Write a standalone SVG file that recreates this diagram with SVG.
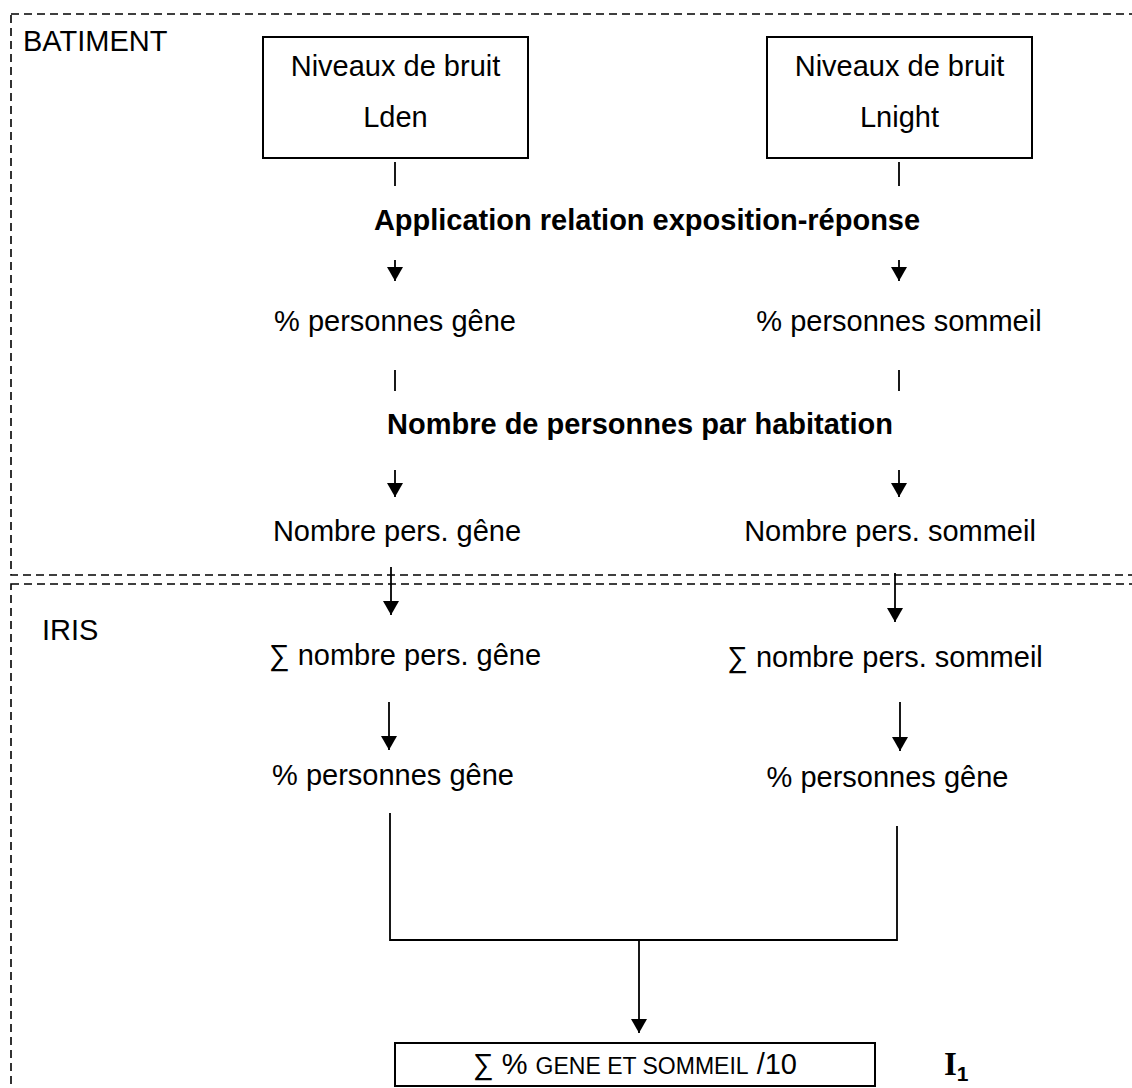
<svg xmlns="http://www.w3.org/2000/svg" width="1132" height="1088" viewBox="0 0 1132 1088">
<defs>
<style>
.t{font-family:"Liberation Sans",Arial,sans-serif;font-size:29px;fill:#000}
.c{text-anchor:middle}
.b{font-weight:bold}
.box{fill:#fff;stroke:#000;stroke-width:2}
.zone{fill:none;stroke:#000;stroke-width:1.6;stroke-dasharray:8 5}
.ln{fill:none;stroke:#000;stroke-width:1.8}
.ar{fill:none;stroke:#000;stroke-width:1.8;marker-end:url(#ah)}
</style>
<marker id="ah" viewBox="0 0 14 16" refX="14" refY="8" markerWidth="14" markerHeight="16" markerUnits="userSpaceOnUse" orient="auto">
<path d="M0,0 L14,8 L0,16 z" fill="#000"/>
</marker>
</defs>
<rect width="1132" height="1088" fill="#fff"/>

<g id="zone-batiment">
<rect class="zone" x="11" y="14" width="1140" height="561"/>
<text class="t" x="23" y="51">BATIMENT</text>
</g>
<g id="zone-iris">
<rect class="zone" x="11" y="584" width="1140" height="540"/>
<text class="t" x="42" y="640">IRIS</text>
</g>

<g id="connectors">
<line class="ln" x1="395" y1="162" x2="395" y2="186"/>
<line class="ln" x1="899" y1="162" x2="899" y2="186"/>
<line class="ar" x1="395" y1="260" x2="395" y2="281"/>
<line class="ar" x1="899" y1="260" x2="899" y2="281"/>
<line class="ln" x1="395" y1="370" x2="395" y2="391"/>
<line class="ln" x1="899" y1="370" x2="899" y2="391"/>
<line class="ar" x1="395" y1="470" x2="395" y2="497"/>
<line class="ar" x1="899" y1="470" x2="899" y2="497"/>
<line class="ar" x1="391" y1="567" x2="391" y2="615"/>
<line class="ar" x1="895" y1="573" x2="895" y2="622"/>
<line class="ar" x1="389" y1="702" x2="389" y2="750"/>
<line class="ar" x1="900" y1="702" x2="900" y2="751"/>
<polyline class="ln" points="390,813 390,940 897,940 897,826"/>
<line class="ar" x1="639" y1="940" x2="639" y2="1033"/>
</g>

<g id="node-lden">
<rect class="box" x="263" y="37" width="265" height="121"/>
<text class="t c" x="395.5" y="76">Niveaux de bruit</text>
<text class="t c" x="395.5" y="127">Lden</text>
</g>
<g id="node-lnight">
<rect class="box" x="767" y="37" width="265" height="121"/>
<text class="t c" x="899.5" y="76">Niveaux de bruit</text>
<text class="t c" x="899.5" y="127">Lnight</text>
</g>
<g id="label-relation">
<text class="t c b" x="647" y="230">Application relation exposition-réponse</text>
</g>
<g id="node-pct-gene-1">
<text class="t c" x="395" y="331">% personnes gêne</text>
</g>
<g id="node-pct-sommeil-1">
<text class="t c" x="899" y="331">% personnes sommeil</text>
</g>
<g id="label-habitation">
<text class="t c b" x="640" y="434">Nombre de personnes par habitation</text>
</g>
<g id="node-nb-gene">
<text class="t c" x="397" y="541">Nombre pers. gêne</text>
</g>
<g id="node-nb-sommeil">
<text class="t c" x="890" y="541">Nombre pers. sommeil</text>
</g>
<g id="node-sum-gene">
<text class="t c" x="405" y="665">∑ nombre pers. gêne</text>
</g>
<g id="node-sum-sommeil">
<text class="t c" x="885" y="667">∑ nombre pers. sommeil</text>
</g>
<g id="node-pct-gene-2">
<text class="t c" x="393" y="785">% personnes gêne</text>
</g>
<g id="node-pct-gene-3">
<text class="t c" x="887.5" y="787">% personnes gêne</text>
</g>
<g id="node-result">
<rect class="box" x="395" y="1043" width="480" height="43"/>
<text class="t c" x="635" y="1074">∑ % <tspan font-size="23">GENE ET SOMMEIL</tspan> /10</text>
</g>
<g id="label-i1">
<text x="944" y="1075" style="font-family:'Liberation Serif','Times New Roman',serif;font-weight:bold;font-size:33px">I<tspan style="font-family:'Liberation Sans',Arial,sans-serif;font-size:21px" dy="6">1</tspan></text>
</g>
</svg>
